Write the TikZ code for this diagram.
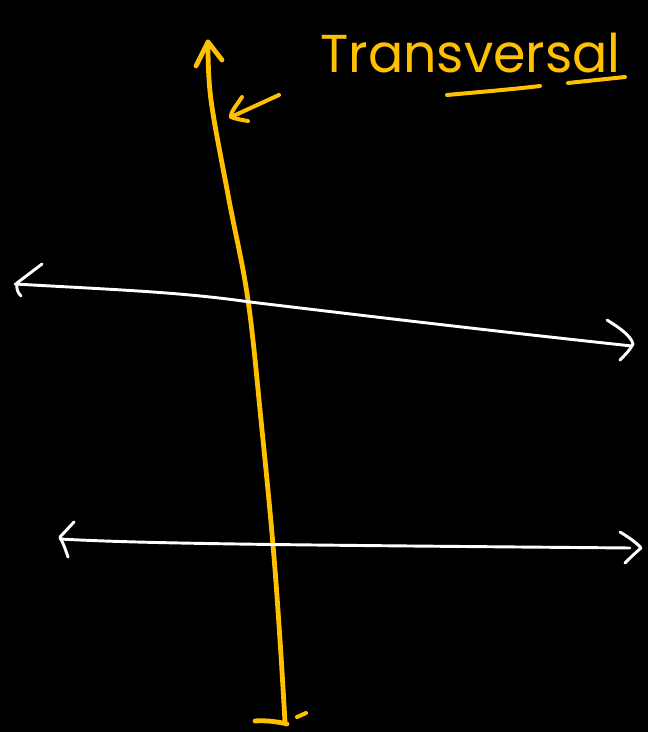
\documentclass[tikz,border=0pt]{standalone}
\usepackage{fontspec}
\setmainfont{Poppins}
\definecolor{penyellow}{HTML}{FFC000}
\begin{document}
\begin{tikzpicture}[x=0.75pt,y=-0.75pt,
  yel/.style={draw=penyellow,line width=3.6pt,line cap=round,line join=round},
  wht/.style={draw=white,line width=2.2pt,line cap=round,line join=round},
  yelthin/.style={draw=penyellow,line width=3pt,line cap=round,line join=round}]
\fill[black] (0,0) rectangle (648,732);
\useasboundingbox (0,0) rectangle (648,732);
% named points
\coordinate (ttop) at (208,42);
\coordinate (tbot) at (285,722);
\coordinate (l1a) at (15,284);
\coordinate (l1b) at (632,346);
\coordinate (l2a) at (60,539);
\coordinate (l2b) at (630,548);
% transversal
\draw[yel] plot[smooth,tension=0.6] coordinates {(208,42) (211,100) (229,200) (248,300) (262,430) (273,545) (280,640) (285,722)};
\draw[yel] (196,66) -- (ttop) -- (222,60);
\draw[yel] (255,721) .. controls (265,720) and (280,722) .. (287,724);
\draw[yelthin] (297,717) -- (306,713);
% pointer arrow
\coordinate (pa) at (279,95);
\coordinate (pb) at (231,117);
\draw[yelthin] (pa) -- (pb);
\draw[yelthin] (242,97) .. controls (236,106) and (230,113) .. (pb) .. controls (236,119) and (242,120) .. (248,121);
% label
\node[text=penyellow,font=\fontsize{40}{40}\selectfont,anchor=base west,inner sep=0pt,xscale=0.98] (lab) at (320,72) {Transversal};
\draw[yelthin] (447,95) .. controls (480,92) and (515,89) .. (540,86);
\draw[yelthin] (568,83) -- (625,77);
% line 1
\draw[wht] (l1a) .. controls (120,290) and (180,292) .. (250,302) .. controls (400,320) and (520,334) .. (l1b);
\draw[wht] (42,264) -- (17,283) .. controls (16,289) and (18,293) .. (21,296);
\draw[wht] (607,320) .. controls (620,328) and (631,336) .. (633,344) .. controls (630,350) and (625,355) .. (620,360);
% line 2
\draw[wht] (l2a) .. controls (150,544) and (300,545) .. (l2b);
\draw[wht] (74,522) -- (60,537) .. controls (64,545) and (66,551) .. (68,557);
\draw[wht] (620,532) .. controls (630,538) and (638,544) .. (641,548) .. controls (634,554) and (629,559) .. (625,563);
\end{tikzpicture}
\end{document}
